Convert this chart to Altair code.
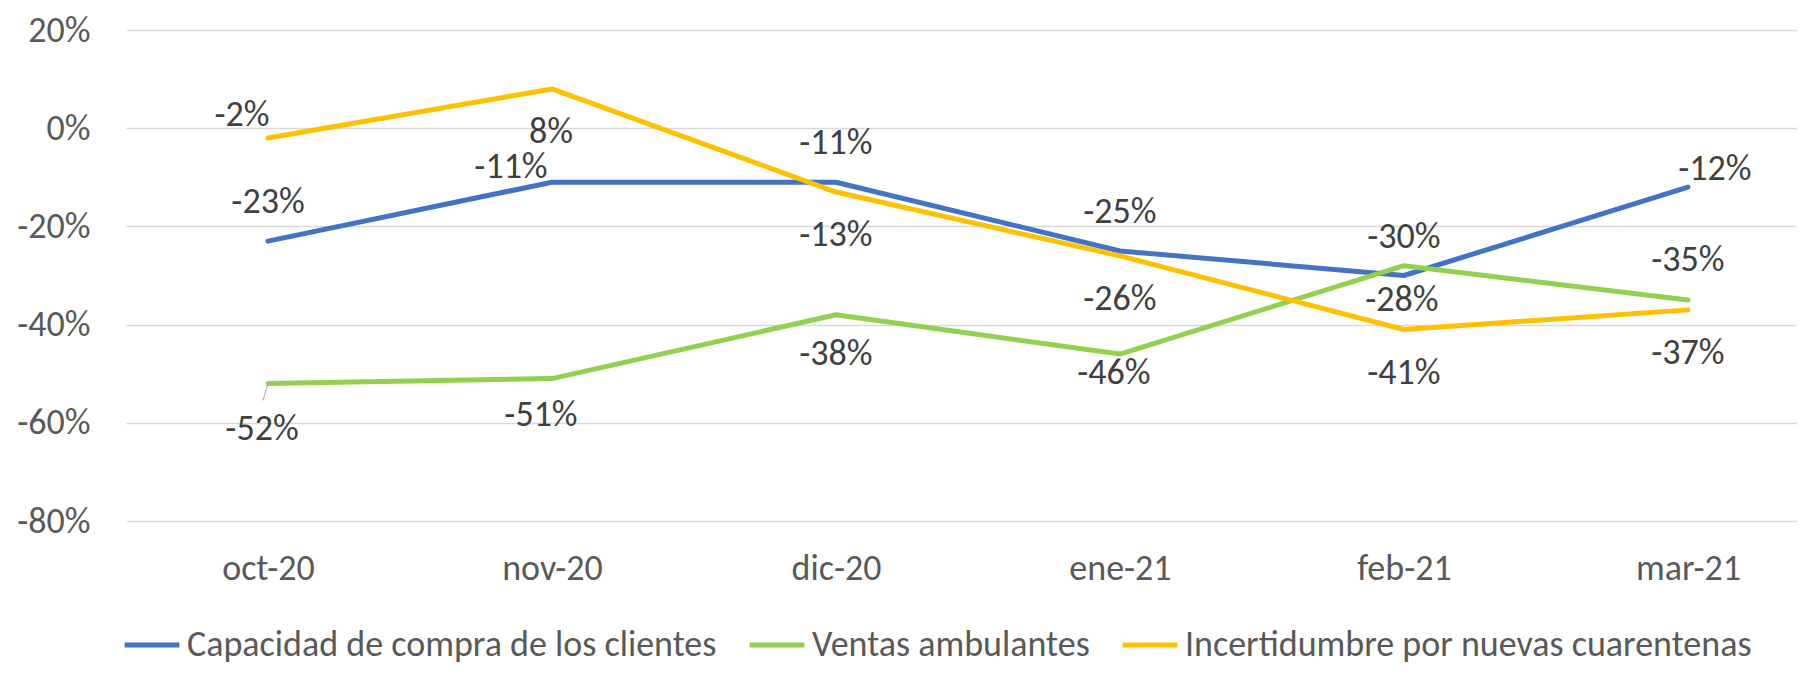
import json
import altair as alt
import pandas as pd

# ---------------- data ----------------
MONTHS = ["oct-20", "nov-20", "dic-20", "ene-21", "feb-21", "mar-21"]
SERIES = [
    "Capacidad de compra de los clientes",
    "Ventas ambulantes",
    "Incertidumbre por nuevas cuarentenas",
]
CAPACIDAD = [-23, -11, -11, -25, -30, -12]
VENTAS = [-52, -51, -38, -46, -28, -35]
INCERTIDUMBRE = [-2, 8, -13, -26, -41, -37]
Y_TICKS = [-0.8, -0.6, -0.4, -0.2, 0.0, 0.2]

# ---------------- style / layout ----------------
COLORS = ["#4472C4", "#92D050", "#FFC000"]
FONT = "Carlito, Calibri, Lato, sans-serif"
W, H = 1671, 491
PAD = {"left": 118, "top": 22, "right": 0, "bottom": 145}
X_DOMAIN = [-0.5, 5.384]
Y_DOMAIN = [-0.8, 0.2]
PX_X = W / (X_DOMAIN[1] - X_DOMAIN[0])
PX_Y = H / (Y_DOMAIN[1] - Y_DOMAIN[0])

# data-label offsets from their point, in pixels (dx, dy; dy positive = down)
LABEL_OFFSETS = [
    [(0, -39), (-41, -15), (0, -39), (0, -39), (0, -39), (27, -18)],
    [(-6, 45), (-11, 36), (0, 39), (-6, 19), (-2, 34), (0, -40)],
    [(-26, -23), (-1, 43), (0, 43), (0, 43), (0, 43), (0, 43)],
]

rows = []
for s, vals, offs in zip(SERIES, [CAPACIDAD, VENTAS, INCERTIDUMBRE], LABEL_OFFSETS):
    for i, (v, (dx, dy)) in enumerate(zip(vals, offs)):
        rows.append({
            "series": s,
            "idx": i,
            "value": v / 100,
            "label": f"{v}%",
            "lx": i + dx / PX_X,
            "ly": v / 100 - dy / PX_Y,
        })
df = pd.DataFrame(rows)

# leader line for the moved "-52%" label
leader = pd.DataFrame([{
    "x1": 0, "y1": VENTAS[0] / 100,
    "x2": 0 - 5 / PX_X, "y2": VENTAS[0] / 100 - 17 / PX_Y,
}])

xscale = alt.Scale(domain=X_DOMAIN, nice=False, zero=False)
yscale = alt.Scale(domain=Y_DOMAIN, nice=False, zero=False)

x_axis = alt.Axis(
    values=list(range(len(MONTHS))),
    labelExpr=f"{json.dumps(MONTHS)}[datum.value]",
    grid=False, domain=False, ticks=False,
    labelFont=FONT, labelFontSize=36, labelColor="#595959",
    labelPadding=30, labelFlush=False, labelOverlap=False, labelBound=False,
    title=None,
)
y_axis = alt.Axis(
    values=Y_TICKS,
    labelExpr="round(datum.value*100) + '%'",
    grid=True, gridColor="#D9D9D9", gridWidth=1.5,
    domain=False, ticks=False,
    labelFont=FONT, labelFontSize=36, labelColor="#595959",
    labelPadding=36, title=None,
)

lines = alt.Chart(df).mark_line(
    strokeWidth=5, strokeCap="round", strokeJoin="round"
).encode(
    x=alt.X("idx:Q", scale=xscale, axis=x_axis),
    y=alt.Y("value:Q", scale=yscale, axis=y_axis),
    color=alt.Color(
        "series:N",
        scale=alt.Scale(domain=SERIES, range=COLORS),
        legend=alt.Legend(
            orient="none", legendX=-4, legendY=585, direction="horizontal",
            title=None, symbolType="stroke", symbolSize=3000, symbolStrokeWidth=5,
            labelFont=FONT, labelFontSize=36, labelColor="#595959",
            labelOffset=5, columnPadding=22, labelLimit=0,
        ),
    ),
    order=alt.Order("idx:Q"),
)

rule = alt.Chart(leader).mark_rule(color="#A6A6A6", strokeWidth=1).encode(
    x=alt.X("x1:Q", scale=xscale), y=alt.Y("y1:Q", scale=yscale),
    x2="x2:Q", y2="y2:Q",
)

labels = alt.Chart(df).mark_text(
    font=FONT, fontSize=36, color="#404040", align="center", baseline="middle"
).encode(
    x=alt.X("lx:Q", scale=xscale),
    y=alt.Y("ly:Q", scale=yscale),
    text="label:N",
)

chart = alt.layer(lines, rule, labels).properties(
    width=W, height=H, padding=PAD, autosize="none"
).configure_view(stroke=None)

chart.save("out.html", embed_options={"renderer": "svg", "actions": False})
